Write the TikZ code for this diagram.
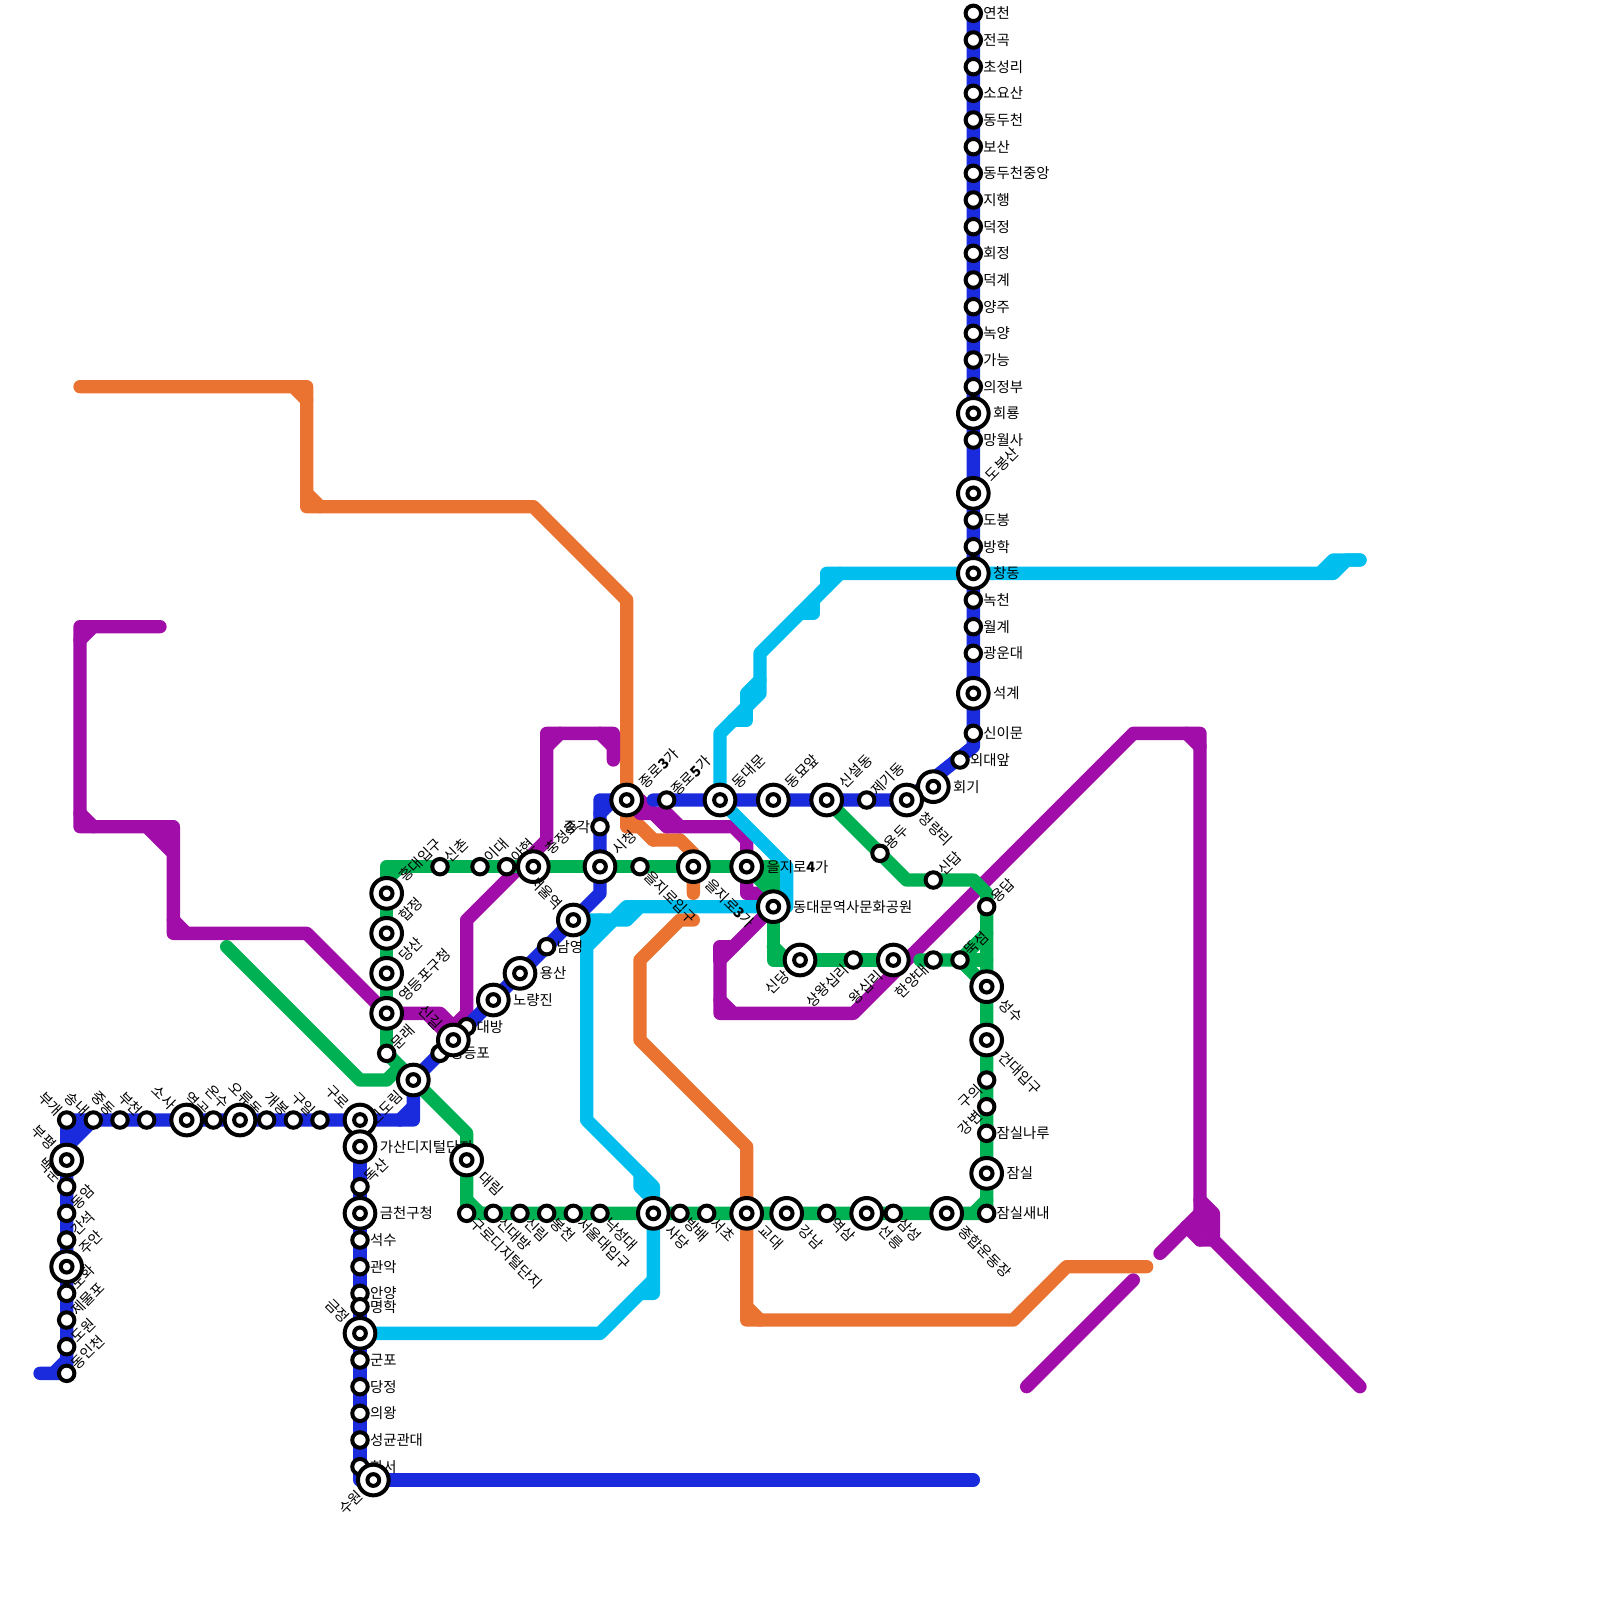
\documentclass[tikz,border=0pt]{standalone}
\usepackage{fontspec}
\setmainfont{Noto Sans CJK KR}
\usepackage{xcolor}
\usepackage{tikz}
\definecolor{lineblue}{HTML}{1A2BDE}
\definecolor{linegreen}{HTML}{00B153}
\definecolor{linecyan}{HTML}{00BEEE}
\definecolor{lineorange}{HTML}{EA7331}
\definecolor{linepurple}{HTML}{A00DA8}
\pgfdeclarelayer{routes}
\pgfsetlayers{routes,main}

\begin{document}
\begin{tikzpicture}[
          x=10pt, y=-10pt,
          rt/.style={draw=#1, line width=10pt, line cap=round, line join=round},
          st/.style={draw, circle, fill=white, line width=3pt, inner sep=0pt, minimum size=11.6pt},
          bigst/.style={draw, circle, fill=white, line width=3pt, inner sep=0pt, minimum size=23pt,
            path picture={\draw[line width=3pt] (path picture bounding box.center) circle (4.4pt);}},
          every label/.style={font=\fontsize{10.8}{12}\selectfont, inner sep=0pt},
          lE/.style={label={[anchor=west]0:#1}},
          lW/.style={label={[anchor=east]180:#1}},
          lNE/.style={label={[rotate=45, anchor=west]45:#1}},
          lSE/.style={label={[rotate=-45, anchor=west]-45:#1}},
          lNW/.style={label={[rotate=-45, anchor=east]135:#1}},
          lSW/.style={label={[rotate=45, anchor=east]225:#1}},
          bE/.style={label={[anchor=west, inner xsep=1.7pt]0:#1}},
          bNE/.style={label={[rotate=45, anchor=west, inner xsep=2.5pt]45:#1}},
          bSE/.style={label={[rotate=-45, anchor=west, inner xsep=2.5pt]-45:#1}},
          bNW/.style={label={[rotate=-45, anchor=east, inner xsep=1pt]135:#1}},
          bSW/.style={label={[rotate=45, anchor=east, inner xsep=1pt]225:#1}},
        ]
        \useasboundingbox (0,0) rectangle (120,120);
        % north branch
        \node[st, lE=연천] (yeoncheon) at (73,1) {};
        \node[st, lE=전곡] (jeongok) at (73,3) {};
        \node[st, lE=초성리] (choseongni) at (73,5) {};
        \node[st, lE=소요산] (soyosan) at (73,7) {};
        \node[st, lE=동두천] (dongducheon) at (73,9) {};
        \node[st, lE=보산] (bosan) at (73,11) {};
        \node[st, lE=동두천중앙] (dongducheonjungang) at (73,13) {};
        \node[st, lE=지행] (jihaeng) at (73,15) {};
        \node[st, lE=덕정] (deokjeong) at (73,17) {};
        \node[st, lE=회정] (hoejeong) at (73,19) {};
        \node[st, lE=덕계] (deokgye) at (73,21) {};
        \node[st, lE=양주] (yangju) at (73,23) {};
        \node[st, lE=녹양] (nogyang) at (73,25) {};
        \node[st, lE=가능] (ganeung) at (73,27) {};
        \node[st, lE=의정부] (uijeongbu) at (73,29) {};
        \node[bigst, bE=회룡] (hoeryong) at (73,31) {};
        \node[st, lE=망월사] (mangwolsa) at (73,33) {};
        \node[bigst, bNE=도봉산] (dobongsan) at (73,37) {};
        \node[st, lE=도봉] (dobong) at (73,39) {};
        \node[st, lE=방학] (banghak) at (73,41) {};
        \node[bigst, bE=창동] (changdong) at (73,43) {};
        \node[st, lE=녹천] (nokcheon) at (73,45) {};
        \node[st, lE=월계] (wolgye) at (73,47) {};
        \node[st, lE=광운대] (gwangwoon) at (73,49) {};
        \node[bigst, bE=석계] (seokgye) at (73,52) {};
        \node[st, lE=신이문] (sinimun) at (73,55) {};
        \node[st, lE=외대앞] (oedae) at (72,57) {};
        \node[bigst, bE=회기] (hoegi) at (70,59) {};
        \node[bigst, bSE=청량리] (cheongnyangni) at (68,60) {};
        % downtown row
        \node[st, lNE=제기동] (jegi) at (65,60) {};
        \node[bigst, bNE=신설동] (sinseol) at (62,60) {};
        \node[bigst, bNE=동묘앞] (dongmyo) at (58,60) {};
        \node[bigst, bNE=동대문] (dongdaemun) at (54,60) {};
        \node[st, lNE=종로\textbf{5}가] (jongno5) at (50,60) {};
        \node[bigst, bNE=종로\textbf{3}가] (jongno3) at (47,60) {};
        \node[st, lW=종각] (jonggak) at (45,62) {};
        \node[bigst, bNE=시청] (sicheong) at (45,65) {};
        \node[st, lSE=을지로입구] (euljiroipgu) at (48,65) {};
        \node[bigst, bSE=을지로\textbf{3}가] (euljiro3) at (52,65) {};
        \node[bigst, bE=을지로\textbf{4}가] (euljiro4) at (56,65) {};
        \node[bigst, bE=동대문역사문화공원] (ddp) at (58,68) {};
        % line two, east side
        \node[bigst, bSW=신당] (sindang) at (60,72) {};
        \node[st, lSW=상왕십리] (sangwangsimni) at (64,72) {};
        \node[bigst, bSW=왕십리] (wangsimni) at (67,72) {};
        \node[st, lSW=한양대] (hanyang) at (70,72) {};
        \node[st, lNE=뚝섬] (ttukseom) at (72,72) {};
        \node[st, lNE=용두] (yongdu) at (66,64) {};
        \node[st, lNE=신답] (sindap) at (70,66) {};
        \node[st, lNE=용답] (yongdap) at (74,68) {};
        \node[bigst, bSE=성수] (seongsu) at (74,74) {};
        \node[bigst, bSE=건대입구] (geondae) at (74,78) {};
        \node[st, lSW=구의] (guui) at (74,81) {};
        \node[st, lSW=강변] (gangbyeon) at (74,83) {};
        \node[st, lE=잠실나루] (jamsilnaru) at (74,85) {};
        \node[bigst, bE=잠실] (jamsil) at (74,88) {};
        \node[st, lE=잠실새내] (jamsilsaenae) at (74,91) {};
        % line two, south side
        \node[bigst, bSE=종합운동장] (jonghap) at (71,91) {};
        \node[st, lSE=삼성] (samseong) at (67,91) {};
        \node[bigst, bSE=선릉] (seolleung) at (65,91) {};
        \node[st, lSE=역삼] (yeoksam) at (62,91) {};
        \node[bigst, bSE=강남] (gangnam) at (59,91) {};
        \node[bigst, bSE=교대] (gyodae) at (56,91) {};
        \node[st, lSE=서초] (seocho) at (53,91) {};
        \node[st, lSE=방배] (bangbae) at (51,91) {};
        \node[bigst, bSE=사당] (sadang) at (49,91) {};
        \node[st, lSE=낙성대] (nakseongdae) at (45,91) {};
        \node[st, lSE=서울대입구] (seouldae) at (43,91) {};
        \node[st, lSE=봉천] (bongcheon) at (41,91) {};
        \node[st, lSE=신림] (sillim) at (39,91) {};
        \node[st, lSE=신대방] (sindaebang) at (37,91) {};
        \node[st, lSE=구로디지털단지] (gurodigital) at (35,91) {};
        % line two, west side
        \node[bigst, bNE=충정로] (chungjeongno) at (40,65) {};
        \node[st, lNE=아현] (ahyeon) at (38,65) {};
        \node[st, lNE=이대] (idae) at (36,65) {};
        \node[st, lNE=신촌] (sinchon) at (33,65) {};
        \node[bigst, bNE=홍대입구] (hongdae) at (29,67) {};
        \node[bigst, bNE=합정] (hapjeong) at (29,70) {};
        \node[bigst, bNE=당산] (dangsan) at (29,73) {};
        \node[bigst, bNE=영등포구청] (yeongdeungpogu) at (29,76) {};
        \node[st, lNE=문래] (mullae) at (29,79) {};
        % line one, through the river
        \node[bigst, bNW=서울역] (seoulyeok) at (43,69) {};
        \node[st, lE=남영] (namyeong) at (41,71) {};
        \node[bigst, bE=용산] (yongsan) at (39,73) {};
        \node[bigst, bE=노량진] (noryangjin) at (37,75) {};
        \node[st, lE=대방] (daebang) at (35,77) {};
        \node[st, lE=영등포] (yeongdeungpo) at (33,79) {};
        \node[bigst, bNW=신길] (singil) at (34,78) {};
        \node[bigst, bSW=신도림] (sindorim) at (31,81) {};
        % line one, west
        \node[st, lNW=구일] (guil) at (24,84) {};
        \node[st, lNW=개봉] (gaebong) at (22,84) {};
        \node[st, lNW=오류동] (oryu) at (20,84) {};
        \node[bigst, bNW=온수] (onsu) at (18,84) {};
        \node[st, lNW=역곡] (yeokgok) at (16,84) {};
        \node[bigst, bNW=소사] (sosa) at (14,84) {};
        \node[st, lNW=부천] (bucheon) at (11,84) {};
        \node[st, lNW=중동] (jungdong) at (9,84) {};
        \node[st, lNW=송내] (songnae) at (7,84) {};
        \node[st, lNW=부개] (bugae) at (5,84) {};
        \node[st, lNW=백운] (baegun) at (5,89) {};
        \node[bigst, bNW=부평] (bupyeong) at (5,87) {};
        \node[st, lNE=동암] (dongam) at (5,91) {};
        \node[st, lNE=간석] (ganseok) at (5,93) {};
        \node[st, lNE=도화] (dohwa) at (5,97) {};
        \node[bigst, bNE=주안] (juan) at (5,95) {};
        \node[st, lNE=제물포] (jemulpo) at (5,99) {};
        \node[st, lNE=도원] (dowon) at (5,101) {};
        \node[st, lNE=동인천] (dongincheon) at (5,103) {};
        % line one, south
        \node[bigst, bNW=구로] (guro) at (27,84) {};
        \node[bigst, bE=가산디지털단지] (gasan) at (27,86) {};
        \node[bigst, bSE=대림] (daerim) at (35,87) {};
        \node[st, lNE=독산] (doksan) at (27,89) {};
        \node[bigst, bE=금천구청] (geumcheon) at (27,91) {};
        \node[st, lE=석수] (seoksu) at (27,93) {};
        \node[st, lE=관악] (gwanak) at (27,95) {};
        \node[st, lE=안양] (anyang) at (27,97) {};
        \node[st, lE=명학] (myeonghak) at (27,98) {};
        \node[bigst, bNW=금정] (geumjeong) at (27,100) {};
        \node[st, lE=군포] (gunpo) at (27,102) {};
        \node[st, lE=당정] (dangjeong) at (27,104) {};
        \node[st, lE=의왕] (uiwang) at (27,106) {};
        \node[st, lE=성균관대] (seonggyun) at (27,108) {};
        \node[st, lE=화서] (hwaseo) at (27,110) {};
        \node[bigst, bSW=수원] (suwon) at (28,111) {};
        \begin{pgfonlayer}{routes}
        % orange
        \draw[rt=lineorange] (6,29) -- (23,29) -- (23,38) -- (40,38) -- (47,45) -- (jongno3.center) -- (47,62) -- (48,62) -- (49,63) -- (51,63) -- (52,64) -- (euljiro3.center) -- (52,67);
        \draw[rt=lineorange] (22,29) -- (23,30);
        \draw[rt=lineorange] (23,37) -- (24,38);
        \draw[rt=lineorange] (47,61) -- (49,63);
        \draw[rt=lineorange] (52,69) -- (51,69) -- (48,72) -- (48,78) -- (56,86) -- (gyodae.center) -- (56,99) -- (76,99) -- (80,95) -- (86,95);
        \draw[rt=lineorange] (56,98) -- (57,99);
        % purple
        \draw[rt=linepurple] (12,47) -- (6,47) -- (6,62) -- (13,62) -- (13,70) -- (23,70) -- (yeongdeungpogu.center) -- (33,76) -- (34,77);
        \draw[rt=linepurple] (6,48) -- (7,47);
        \draw[rt=linepurple] (6,61) -- (7,62);
        \draw[rt=linepurple] (11,62) -- (13,64);
        \draw[rt=linepurple] (12,62) -- (13,63);
        \draw[rt=linepurple] (13,69) -- (14,70);
        \draw[rt=linepurple] (32,76) -- (singil.center);
        \draw[rt=linepurple] (46,57) -- (46,55) -- (41,55) -- (41,63) -- (35,69) -- (35,77) -- (singil.center);
        \draw[rt=linepurple] (35,76) -- (34,77);
        \draw[rt=linepurple] (41,56) -- (42,55);
        \draw[rt=linepurple] (45,55) -- (46,56);
        \draw[rt=linepurple] (jongno3.center) -- (48,60) -- (50,62) -- (55,62) -- (56,63) -- (euljiro4.center) -- (56,67) -- (57,67) -- (ddp.center) -- (54,72) -- (54,76) -- (64,76) -- (85,55) -- (90,55) -- (90,93) -- (91,93) -- (102,104);
        \draw[rt=linepurple] (48,61) -- (50,61) -- (51,62);
        \draw[rt=linepurple] (49,61) -- (50,62);
        \draw[rt=linepurple] (55,71) -- (54,71) -- (54,72);
        \draw[rt=linepurple] (54,75) -- (55,76);
        \draw[rt=linepurple] (89,55) -- (90,56);
        \draw[rt=linepurple] (90,90) -- (91,91) -- (91,93);
        \draw[rt=linepurple] (90,91) -- (91,92);
        \draw[rt=linepurple] (87,94) -- (90,91);
        \draw[rt=linepurple] (89,92) -- (90,93);
        \draw[rt=linepurple] (89,92) -- (91,92);
        \draw[rt=linepurple] (85,96) -- (77,104);
        % blue
        \draw[rt=lineblue] (yeoncheon.center) -- (73,56) -- (cheongnyangni.center) -- (49,60);
        \draw[rt=lineblue] (jongno3.center) -- (45,60) -- (sicheong.center) -- (45,67) -- (sindorim.center) -- (31,84) -- (guro.center) -- (bugae.center) -- (dongincheon.center) -- (3,103);
        \draw[rt=lineblue] (46,60) -- (45,61);
        \draw[rt=lineblue] (31,83) -- (30,84);
        \draw[rt=lineblue] (songnae.center) -- (5,86);
        \draw[rt=lineblue] (6,84) -- (5,85);
        \draw[rt=lineblue] (5,102) -- (4,103);
        \draw[rt=lineblue] (guro.center) -- (27,111) -- (73,111);
        % cyan
        \draw[rt=linecyan] (dongdaemun.center) -- (59,65) -- (59,68) -- (48,68) -- (47,69) -- (46,69) -- (44,71) -- (44,84) -- (49,89) -- (sadang.center) -- (49,97) -- (48,97);
        \draw[rt=linecyan] (44,71) -- (44,69) -- (46,69) -- (47,68) -- (48,68);
        \draw[rt=linecyan] (45,69) -- (44,70);
        \draw[rt=linecyan] (48,88) -- (48,89) -- (49,90);
        \draw[rt=linecyan] (49,96) -- (45,100) -- (geumjeong.center);
        \draw[rt=linecyan] (dongdaemun.center) -- (54,55) -- (57,52) -- (57,49) -- (62,44) -- (62,43) -- (changdong.center) -- (100,43) -- (101,42) -- (102,42);
        \draw[rt=linecyan] (99,43) -- (100,42) -- (102,42);
        \draw[rt=linecyan] (57,51) -- (56,52) -- (56,53);
        \draw[rt=linecyan] (55,54) -- (56,54) -- (56,53);
        \draw[rt=linecyan] (60,46) -- (61,46) -- (61,45);
        \draw[rt=linecyan] (62,44) -- (63,43);
        % green
        \draw[rt=linegreen] (17,71) -- (27,81) -- (29,81) -- (30,80);
        \draw[rt=linegreen] (mullae.center) -- (35,85) -- (daerim.center) -- (gurodigital.center) -- (jamsilsaenae.center) -- (74,67) -- (73,66) -- (68,66) -- (sinseol.center);
        \draw[rt=linegreen] (mullae.center) -- (29,65) -- (58,65) -- (58,72) -- (wangsimni.center);
        \draw[rt=linegreen] (29,66) -- (30,65);
        \draw[rt=linegreen] (euljiro4.center) -- (58,67);
        \draw[rt=linegreen] (57,65) -- (58,66);
        \draw[rt=linegreen] (58,71) -- (59,72);
        \draw[rt=linegreen] (35,90) -- (36,91);
        \draw[rt=linegreen] (73,91) -- (74,90);
        \draw[rt=linegreen] (69,72) -- (ttukseom.center) -- (seongsu.center);
        \draw[rt=linegreen] (ttukseom.center) -- (74,70);
        \draw[rt=linegreen] (73,72) -- (74,72);
        \end{pgfonlayer}
        \end{tikzpicture}
\end{document}
